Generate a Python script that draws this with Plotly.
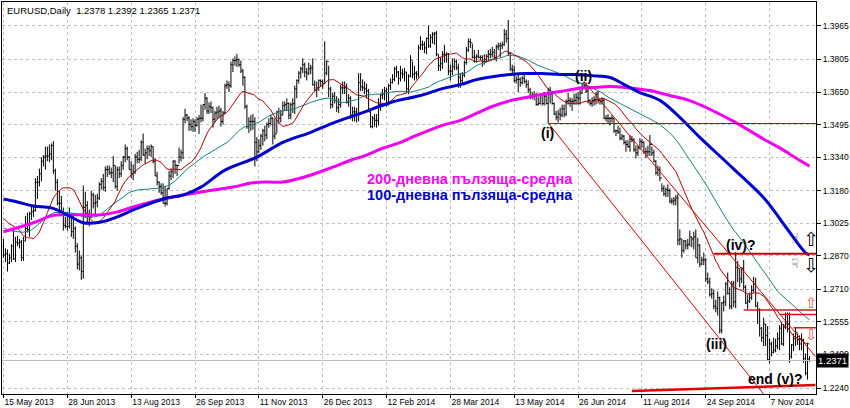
import plotly.graph_objects as go
import pandas as pd

# ---------------- data ----------------
title_text = "EURUSD,Daily  1.2378 1.2392 1.2365 1.2371"

x_tick_pos = [0, 32, 64, 96, 128, 160, 192, 224, 256, 288, 320, 352, 384]
x_tick_labels = ["15 May 2013", "28 Jun 2013", "13 Aug 2013", "26 Sep 2013", "11 Nov 2013",
                 "26 Dec 2013", "12 Feb 2014", "28 Mar 2014", "13 May 2014", "26 Jun 2014",
                 "11 Aug 2014", "24 Sep 2014", "7 Nov 2014"]
y_ticks = [1.2240, 1.2400, 1.2555, 1.2710, 1.2870, 1.3025, 1.3180, 1.3340, 1.3495,
           1.3650, 1.3805, 1.3965]

# daily bars, one row per week (15 May 2013 .. 5 Dec 2014)
high = [
    1.2950, 1.2905, 1.2900,
    1.2880, 1.2925, 1.2997, 1.2960, 1.2965,
    1.2950, 1.2945, 1.2960, 1.3060, 1.3075,
    1.3080, 1.3110, 1.3105, 1.3240, 1.3250,
    1.3285, 1.3340, 1.3350, 1.3390, 1.3390,
    1.3400, 1.3405, 1.3416, 1.3285, 1.3235,
    1.3180, 1.3155, 1.3100, 1.3055, 1.3080,
    1.3100, 1.3070, 1.3060, 1.3010, 1.2930,
    1.2895, 1.2870, 1.3205, 1.3175, 1.3130,
    1.3090, 1.3180, 1.3170, 1.3160, 1.3165,
    1.3220, 1.3240, 1.3260, 1.3295, 1.3300,
    1.3300, 1.3290, 1.3345, 1.3300, 1.3295,
    1.3295, 1.3320, 1.3345, 1.3400, 1.3390,
    1.3345, 1.3320, 1.3305, 1.3355, 1.3365,
    1.3375, 1.3420, 1.3452, 1.3380, 1.3395,
    1.3395, 1.3400, 1.3390, 1.3335, 1.3270,
    1.3225, 1.3215, 1.3215, 1.3200, 1.3190,
    1.3275, 1.3285, 1.3325, 1.3325, 1.3305,
    1.3385, 1.3375, 1.3530, 1.3570, 1.3545,
    1.3535, 1.3520, 1.3525, 1.3520, 1.3530,
    1.3540, 1.3590, 1.3590, 1.3645, 1.3625,
    1.3600, 1.3605, 1.3580, 1.3560, 1.3580,
    1.3585, 1.3575, 1.3560, 1.3690, 1.3705,
    1.3700, 1.3795, 1.3810, 1.3820, 1.3832,
    1.3810, 1.3800, 1.3760, 1.3725, 1.3590,
    1.3530, 1.3540, 1.3545, 1.3530, 1.3435,
    1.3425, 1.3450, 1.3475, 1.3490, 1.3505,
    1.3525, 1.3540, 1.3530, 1.3525, 1.3560,
    1.3575, 1.3565, 1.3605, 1.3605, 1.3620,
    1.3600, 1.3600, 1.3620, 1.3680, 1.3710,
    1.3750, 1.3770, 1.3810, 1.3790, 1.3765,
    1.3790, 1.3780, 1.3810, 1.3705, 1.3700,
    1.3710, 1.3710, 1.3710, 1.3892,
    1.3800, 1.3775, 1.3675,
    1.3645, 1.3650, 1.3630, 1.3620, 1.3685,
    1.3700, 1.3700, 1.3690, 1.3640, 1.3630,
    1.3580, 1.3580, 1.3575, 1.3740, 1.3740,
    1.3710, 1.3700, 1.3690, 1.3665, 1.3565,
    1.3535, 1.3545, 1.3545, 1.3620, 1.3640,
    1.3665, 1.3675, 1.3670, 1.3690, 1.3715,
    1.3735, 1.3770, 1.3775, 1.3750, 1.3775,
    1.3760, 1.3765, 1.3745, 1.3735, 1.3825,
    1.3795, 1.3775, 1.3750, 1.3875, 1.3915,
    1.3895, 1.3890, 1.3910, 1.3967, 1.3925,
    1.3935, 1.3935, 1.3940, 1.3830, 1.3815,
    1.3845, 1.3875, 1.3840, 1.3835, 1.3780,
    1.3810, 1.3810, 1.3805, 1.3785, 1.3740,
    1.3745, 1.3800, 1.3865, 1.3905, 1.3905,
    1.3880, 1.3850, 1.3830, 1.3850, 1.3825,
    1.3825, 1.3830, 1.3830, 1.3850, 1.3855,
    1.3865, 1.3855, 1.3875, 1.3885, 1.3885,
    1.3890, 1.3950, 1.3945, 1.3993, 1.3840,
    1.3780, 1.3775, 1.3725, 1.3735, 1.3720,
    1.3725, 1.3735, 1.3710, 1.3705, 1.3670,
    1.3650, 1.3655, 1.3645, 1.3625, 1.3645,
    1.3645, 1.3650, 1.3645, 1.3670, 1.3675,
    1.3655, 1.3600, 1.3560, 1.3565, 1.3575,
    1.3590, 1.3590, 1.3615, 1.3645, 1.3625,
    1.3620, 1.3640, 1.3645, 1.3650, 1.3660,
    1.3695, 1.3700, 1.3695, 1.3675, 1.3615,
    1.3625, 1.3630, 1.3650, 1.3655, 1.3620,
    1.3625, 1.3620, 1.3540, 1.3545, 1.3530,
    1.3540, 1.3525, 1.3470, 1.3490, 1.3480,
    1.3450, 1.3445, 1.3420, 1.3420, 1.3445,
    1.3440, 1.3430, 1.3395, 1.3395, 1.3430,
    1.3425, 1.3415, 1.3385, 1.3395, 1.3445,
    1.3390, 1.3375, 1.3325, 1.3300, 1.3295,
    1.3215, 1.3205, 1.3195, 1.3210, 1.3190,
    1.3145, 1.3150, 1.3160, 1.3165, 1.2995,
    1.2950, 1.2945, 1.2945, 1.2950, 1.2990,
    1.2960, 1.2985, 1.2995, 1.2955, 1.2925,
    1.2865, 1.2885, 1.2860, 1.2790, 1.2765,
    1.2715, 1.2710, 1.2660, 1.2700, 1.2675,
    1.2650, 1.2680, 1.2745, 1.2790, 1.2720,
    1.2750, 1.2750, 1.2887, 1.2845, 1.2810,
    1.2815, 1.2850, 1.2730, 1.2685, 1.2695,
    1.2730, 1.2770, 1.2765, 1.2650, 1.2620,
    1.2530, 1.2575, 1.2545, 1.2535, 1.2475,
    1.2460, 1.2480, 1.2475, 1.2505, 1.2540,
    1.2555, 1.2545, 1.2600, 1.2600, 1.2600,
    1.2450, 1.2500, 1.2530, 1.2500, 1.2490,
    1.2500, 1.2475, 1.2405, 1.2455, 1.2392,
]
low = [
    1.2860, 1.2840, 1.2795,
    1.2830, 1.2840, 1.2850, 1.2840, 1.2915,
    1.2905, 1.2845, 1.2845, 1.2940, 1.2980,
    1.2960, 1.3040, 1.3055, 1.3080, 1.3140,
    1.3200, 1.3225, 1.3295, 1.3280, 1.3320,
    1.3315, 1.3325, 1.3260, 1.3180, 1.3110,
    1.3065, 1.3080, 1.2990, 1.3000, 1.2990,
    1.3000, 1.2960, 1.2950, 1.2885, 1.2805,
    1.2800, 1.2755, 1.2760, 1.3050, 1.3030,
    1.3010, 1.3050, 1.3095, 1.3060, 1.3100,
    1.3135, 1.3185, 1.3180, 1.3175, 1.3245,
    1.3255, 1.3240, 1.3220, 1.3190, 1.3180,
    1.3240, 1.3245, 1.3280, 1.3315, 1.3325,
    1.3280, 1.3240, 1.3230, 1.3260, 1.3310,
    1.3310, 1.3320, 1.3345, 1.3310, 1.3330,
    1.3345, 1.3340, 1.3310, 1.3250, 1.3205,
    1.3170, 1.3160, 1.3120, 1.3105, 1.3110,
    1.3185, 1.3230, 1.3240, 1.3260, 1.3250,
    1.3310, 1.3320, 1.3330, 1.3500, 1.3510,
    1.3465, 1.3465, 1.3460, 1.3460, 1.3485,
    1.3450, 1.3505, 1.3510, 1.3565, 1.3545,
    1.3545, 1.3550, 1.3480, 1.3505, 1.3520,
    1.3525, 1.3485, 1.3495, 1.3545, 1.3665,
    1.3650, 1.3670, 1.3745, 1.3775, 1.3770,
    1.3770, 1.3740, 1.3680, 1.3570, 1.3475,
    1.3455, 1.3465, 1.3470, 1.3295, 1.3320,
    1.3360, 1.3375, 1.3395, 1.3415, 1.3425,
    1.3480, 1.3490, 1.3400, 1.3425, 1.3455,
    1.3500, 1.3505, 1.3540, 1.3560, 1.3560,
    1.3520, 1.3520, 1.3550, 1.3545, 1.3620,
    1.3690, 1.3715, 1.3740, 1.3720, 1.3705,
    1.3730, 1.3735, 1.3680, 1.3655, 1.3625,
    1.3655, 1.3675, 1.3665, 1.3690,
    1.3730, 1.3625, 1.3570,
    1.3575, 1.3595, 1.3555, 1.3550, 1.3575,
    1.3640, 1.3640, 1.3595, 1.3580, 1.3520,
    1.3510, 1.3510, 1.3505, 1.3510, 1.3655,
    1.3655, 1.3640, 1.3620, 1.3555, 1.3480,
    1.3477, 1.3485, 1.3480, 1.3490, 1.3560,
    1.3615, 1.3610, 1.3580, 1.3585, 1.3660,
    1.3690, 1.3700, 1.3720, 1.3685, 1.3700,
    1.3715, 1.3700, 1.3650, 1.3640, 1.3720,
    1.3715, 1.3705, 1.3710, 1.3720, 1.3850,
    1.3850, 1.3835, 1.3830, 1.3860, 1.3860,
    1.3880, 1.3875, 1.3820, 1.3750, 1.3750,
    1.3760, 1.3790, 1.3790, 1.3730, 1.3705,
    1.3730, 1.3755, 1.3755, 1.3670, 1.3670,
    1.3690, 1.3720, 1.3780, 1.3840, 1.3860,
    1.3810, 1.3790, 1.3790, 1.3810, 1.3800,
    1.3770, 1.3780, 1.3790, 1.3800, 1.3810,
    1.3815, 1.3805, 1.3795, 1.3850, 1.3815,
    1.3855, 1.3870, 1.3885, 1.3825, 1.3750,
    1.3735, 1.3695, 1.3690, 1.3650, 1.3675,
    1.3685, 1.3690, 1.3670, 1.3645, 1.3615,
    1.3615, 1.3610, 1.3585, 1.3585, 1.3590,
    1.3585, 1.3585, 1.3590, 1.3503, 1.3595,
    1.3590, 1.3540, 1.3515, 1.3505, 1.3515,
    1.3530, 1.3530, 1.3535, 1.3590, 1.3580,
    1.3560, 1.3590, 1.3590, 1.3590, 1.3590,
    1.3640, 1.3670, 1.3645, 1.3595, 1.3585,
    1.3580, 1.3585, 1.3590, 1.3595, 1.3590,
    1.3590, 1.3520, 1.3510, 1.3500, 1.3490,
    1.3505, 1.3455, 1.3440, 1.3450, 1.3420,
    1.3420, 1.3400, 1.3365, 1.3385, 1.3365,
    1.3410, 1.3365, 1.3333, 1.3345, 1.3375,
    1.3385, 1.3355, 1.3335, 1.3345, 1.3345,
    1.3345, 1.3315, 1.3255, 1.3250, 1.3225,
    1.3175, 1.3155, 1.3150, 1.3150, 1.3120,
    1.3115, 1.3110, 1.3110, 1.2920, 1.2920,
    1.2860, 1.2885, 1.2900, 1.2900, 1.2915,
    1.2910, 1.2900, 1.2860, 1.2835, 1.2815,
    1.2825, 1.2825, 1.2745, 1.2735, 1.2675,
    1.2665, 1.2615, 1.2600, 1.2585, 1.2500,
    1.2500, 1.2605, 1.2630, 1.2685, 1.2615,
    1.2615, 1.2625, 1.2620, 1.2745, 1.2720,
    1.2740, 1.2705, 1.2640, 1.2615, 1.2645,
    1.2660, 1.2695, 1.2625, 1.2545, 1.2485,
    1.2460, 1.2440, 1.2440, 1.2370, 1.2358,
    1.2390, 1.2405, 1.2410, 1.2425, 1.2420,
    1.2445, 1.2440, 1.2520, 1.2505, 1.2360,
    1.2380, 1.2415, 1.2440, 1.2445, 1.2420,
    1.2420, 1.2360, 1.2300, 1.2280, 1.2365,
]
close = [
    1.2875, 1.2880, 1.2835,
    1.2860, 1.2915, 1.2855, 1.2935, 1.2930,
    1.2935, 1.2860, 1.2940, 1.3000, 1.2995,
    1.3070, 1.3080, 1.3085, 1.3220, 1.3220,
    1.3260, 1.3320, 1.3340, 1.3345, 1.3345,
    1.3355, 1.3395, 1.3275, 1.3220, 1.3120,
    1.3120, 1.3080, 1.3015, 1.3010, 1.3010,
    1.3060, 1.2985, 1.3000, 1.2915, 1.2830,
    1.2860, 1.2795, 1.3100, 1.3110, 1.3070,
    1.3060, 1.3160, 1.3120, 1.3125, 1.3145,
    1.3210, 1.3225, 1.3195, 1.3280, 1.3280,
    1.3265, 1.3265, 1.3300, 1.3200, 1.3280,
    1.3260, 1.3300, 1.3340, 1.3380, 1.3340,
    1.3280, 1.3260, 1.3270, 1.3340, 1.3330,
    1.3330, 1.3410, 1.3350, 1.3360, 1.3380,
    1.3370, 1.3390, 1.3320, 1.3250, 1.3220,
    1.3200, 1.3170, 1.3120, 1.3120, 1.3190,
    1.3250, 1.3270, 1.3320, 1.3300, 1.3300,
    1.3340, 1.3360, 1.3520, 1.3540, 1.3525,
    1.3495, 1.3485, 1.3510, 1.3490, 1.3520,
    1.3525, 1.3525, 1.3590, 1.3620, 1.3560,
    1.3580, 1.3575, 1.3520, 1.3550, 1.3555,
    1.3560, 1.3510, 1.3550, 1.3680, 1.3685,
    1.3680, 1.3780, 1.3800, 1.3800, 1.3805,
    1.3780, 1.3750, 1.3720, 1.3580, 1.3485,
    1.3510, 1.3510, 1.3510, 1.3410, 1.3365,
    1.3395, 1.3440, 1.3465, 1.3445, 1.3495,
    1.3500, 1.3525, 1.3440, 1.3450, 1.3555,
    1.3525, 1.3540, 1.3585, 1.3590, 1.3595,
    1.3540, 1.3590, 1.3595, 1.3665, 1.3705,
    1.3740, 1.3760, 1.3780, 1.3745, 1.3740,
    1.3760, 1.3765, 1.3685, 1.3660, 1.3670,
    1.3705, 1.3700, 1.3690, 1.3740,
    1.3795, 1.3665, 1.3590,
    1.3630, 1.3610, 1.3575, 1.3590, 1.3670,
    1.3670, 1.3670, 1.3600, 1.3620, 1.3540,
    1.3555, 1.3555, 1.3545, 1.3695, 1.3675,
    1.3670, 1.3665, 1.3655, 1.3555, 1.3485,
    1.3525, 1.3515, 1.3515, 1.3590, 1.3635,
    1.3640, 1.3655, 1.3590, 1.3680, 1.3695,
    1.3710, 1.3760, 1.3745, 1.3715, 1.3740,
    1.3735, 1.3745, 1.3665, 1.3725, 1.3800,
    1.3735, 1.3740, 1.3735, 1.3860, 1.3875,
    1.3875, 1.3860, 1.3905, 1.3870, 1.3910,
    1.3925, 1.3930, 1.3830, 1.3775, 1.3785,
    1.3830, 1.3825, 1.3830, 1.3750, 1.3750,
    1.3770, 1.3795, 1.3765, 1.3720, 1.3705,
    1.3730, 1.3790, 1.3850, 1.3890, 1.3885,
    1.3815, 1.3815, 1.3820, 1.3815, 1.3815,
    1.3795, 1.3805, 1.3820, 1.3830, 1.3830,
    1.3840, 1.3815, 1.3865, 1.3870, 1.3870,
    1.3875, 1.3925, 1.3905, 1.3835, 1.3760,
    1.3755, 1.3705, 1.3710, 1.3710, 1.3695,
    1.3715, 1.3700, 1.3685, 1.3660, 1.3630,
    1.3635, 1.3635, 1.3590, 1.3595, 1.3635,
    1.3595, 1.3630, 1.3595, 1.3660, 1.3640,
    1.3595, 1.3545, 1.3530, 1.3545, 1.3540,
    1.3570, 1.3545, 1.3605, 1.3610, 1.3605,
    1.3605, 1.3610, 1.3625, 1.3620, 1.3645,
    1.3690, 1.3680, 1.3655, 1.3610, 1.3595,
    1.3610, 1.3615, 1.3640, 1.3610, 1.3605,
    1.3610, 1.3525, 1.3525, 1.3525, 1.3525,
    1.3525, 1.3465, 1.3465, 1.3460, 1.3430,
    1.3440, 1.3410, 1.3400, 1.3390, 1.3425,
    1.3420, 1.3375, 1.3360, 1.3385, 1.3415,
    1.3410, 1.3365, 1.3365, 1.3365, 1.3400,
    1.3360, 1.3320, 1.3265, 1.3280, 1.3240,
    1.3190, 1.3165, 1.3185, 1.3180, 1.3130,
    1.3130, 1.3135, 1.3145, 1.2945, 1.2950,
    1.2895, 1.2940, 1.2920, 1.2925, 1.2960,
    1.2950, 1.2960, 1.2860, 1.2920, 1.2830,
    1.2850, 1.2850, 1.2760, 1.2745, 1.2685,
    1.2690, 1.2630, 1.2620, 1.2670, 1.2515,
    1.2645, 1.2650, 1.2735, 1.2690, 1.2630,
    1.2735, 1.2650, 1.2815, 1.2810, 1.2760,
    1.2810, 1.2720, 1.2645, 1.2655, 1.2670,
    1.2705, 1.2735, 1.2630, 1.2610, 1.2525,
    1.2480, 1.2545, 1.2490, 1.2375, 1.2450,
    1.2410, 1.2420, 1.2440, 1.2475, 1.2525,
    1.2450, 1.2530, 1.2545, 1.2545, 1.2390,
    1.2445, 1.2475, 1.2505, 1.2470, 1.2450,
    1.2470, 1.2380, 1.2310, 1.2378, 1.2371,
]
first_open = 1.2915

# estimated closes of the 49 sessions before the first bar (seed the 20/50-day averages)
close_before_start = [
    1.3110, 1.3000, 1.3025, 1.3040, 1.2950, 1.2975, 1.3075, 1.2950, 1.2870, 1.2945,
    1.2905, 1.2985, 1.2855, 1.2850, 1.2775, 1.2820, 1.2820, 1.2850, 1.2815, 1.2850,
    1.2990, 1.3000, 1.3045, 1.3070, 1.3070, 1.3110, 1.3110, 1.3040, 1.3185, 1.3045,
    1.3050, 1.3050, 1.3025, 1.2985, 1.3020, 1.3035, 1.3030, 1.3085, 1.3165, 1.3185,
    1.3060, 1.3115, 1.3090, 1.3075, 1.3170, 1.3075, 1.2990, 1.2980, 1.2915,
]

# 200- and 100-day moving averages (bar index, price)
ma200_idx = [0, 15, 24, 32, 40, 49, 57, 65, 74, 82, 90, 99, 115, 124, 132, 140, 149, 157, 165,
             174, 182, 190, 199, 207, 220, 229, 237, 245, 254, 262, 270, 279, 287, 295, 304,
             312, 324, 334, 344, 365, 382, 389, 394, 399, 404]
ma200_val = [1.2984, 1.3027, 1.3060, 1.3065, 1.3065, 1.3065, 1.3079, 1.3102, 1.3126, 1.3145,
             1.3159, 1.3174, 1.3197, 1.3216, 1.3221, 1.3221, 1.3240, 1.3264, 1.3292, 1.3325,
             1.3349, 1.3382, 1.3410, 1.3443, 1.3491, 1.3515, 1.3548, 1.3581, 1.3609, 1.3624,
             1.3638, 1.3652, 1.3666, 1.3671, 1.3676, 1.3671, 1.3657, 1.3633, 1.3609, 1.3515,
             1.3420, 1.3384, 1.3355, 1.3325, 1.3297]
ma100_idx = [0, 7, 15, 24, 32, 40, 49, 57, 65, 74, 82, 90, 99, 111, 127, 140, 154, 166, 179,
             194, 209, 220, 229, 237, 245, 254, 262, 270, 279, 287, 295, 304, 312, 319, 329,
             339, 349, 365, 382, 392, 402, 404]
ma100_val = [1.3140, 1.3126, 1.3107, 1.3098, 1.3065, 1.3027, 1.3031, 1.3055, 1.3088, 1.3121,
             1.3145, 1.3159, 1.3197, 1.3278, 1.3340, 1.3410, 1.3458, 1.3505, 1.3548, 1.3600,
             1.3633, 1.3666, 1.3685, 1.3709, 1.3723, 1.3733, 1.3738, 1.3738, 1.3733, 1.3733,
             1.3728, 1.3719, 1.3681, 1.3647, 1.3610, 1.3529, 1.3434, 1.3292, 1.3136, 1.3008,
             1.2884, 1.2874]

# drawn objects (bar index, price)
channel_low = ([273, 384], [1.3503, 1.2175])
channel_up = ([291, 407], [1.3700, 1.2390])
h_lines = [  # (start index, price, colour, width)
    (273, 1.3500, "#B01010", 1),
    (356, 1.2880, "#CC0000", 2),
    (371, 1.2612, "#D01818", 1.5),
    (389, 1.2590, "#D01818", 1.5),
    (396, 1.2527, "#D01818", 1.5),
]
support_line = ([315, 407], [1.2226, 1.2254])
bid_price = 1.2371

wave_labels = [("(i)", 272.5, 1.3453), ("(ii)", 290.75, 1.3728), ("(iii)", 357.25, 1.2448),
               ("(iv)?", 369.75, 1.2922), ("end (v)?", 386.75, 1.2283)]
ma_notes = [("200-дневна пълзяща-средна", 181.25, 1.3235, "#FF00FF"),
            ("100-дневна пълзяща-средна", 181.25, 1.3159, "#0000CD")]
arrow_marks = [("⇧", 404.6, 1.2950, "black", 19), ("⇩", 404.6, 1.2826, "black", 19),
               ("⇧", 405.0, 1.2643, "#F05050", 15), ("⇩", 404.8, 1.2491, "#F05050", 15),
               ("☝", 396.5, 1.2950, "#333333", 13), ("☟", 396.5, 1.2832, "#333333", 13)]

# ---------------- figure ----------------
n = len(close)
idx = list(range(n))
opens = [first_open] + close[:-1]
full = pd.Series(close_before_start + close)
sma20 = full.rolling(20).mean().iloc[len(close_before_start):].tolist()
sma50 = full.rolling(50).mean().iloc[len(close_before_start):].tolist()

fig = go.Figure()
fig.add_trace(go.Ohlc(x=idx, open=opens, high=high, low=low, close=close,
                      increasing=dict(line=dict(color="black", width=1)),
                      decreasing=dict(line=dict(color="black", width=1)),
                      tickwidth=0.5, hoverinfo="skip"))

fig.add_trace(go.Scatter(x=idx, y=sma50, mode="lines", line=dict(color="#168080", width=1)))
fig.add_trace(go.Scatter(x=idx, y=sma20, mode="lines", line=dict(color="#B00000", width=1)))
fig.add_trace(go.Scatter(x=ma200_idx, y=ma200_val, mode="lines",
                         line=dict(color="#F000F0", width=3, shape="spline", smoothing=1)))
fig.add_trace(go.Scatter(x=ma100_idx, y=ma100_val, mode="lines",
                         line=dict(color="#0000CD", width=3, shape="spline", smoothing=1)))

for xs, ys in (channel_low, channel_up):
    fig.add_trace(go.Scatter(x=xs, y=ys, mode="lines", line=dict(color="#D00000", width=1)))
for x0, p, c, w in h_lines:
    fig.add_trace(go.Scatter(x=[x0, 407.25], y=[p, p], mode="lines", line=dict(color=c, width=w)))
fig.add_trace(go.Scatter(x=support_line[0], y=support_line[1], mode="lines",
                         line=dict(color="#E00000", width=2.5)))
fig.add_trace(go.Scatter(x=[-0.75, 407.25], y=[bid_price, bid_price], mode="lines",
                         line=dict(color="#C0C0C0", width=1)))

ann = []
for t, xx, yy in wave_labels:
    ann.append(dict(x=xx, y=yy, text="<b>" + t + "</b>", showarrow=False,
                    font=dict(family="Liberation Sans", size=14, color="black")))
for t, xx, yy, c in ma_notes:
    ann.append(dict(x=xx, y=yy, text="<b>" + t + "</b>", showarrow=False, xanchor="left",
                    font=dict(family="Liberation Sans", size=14.5, color=c)))
for t, xx, yy, c, s in arrow_marks:
    ann.append(dict(x=xx, y=yy, text=t, showarrow=False,
                    font=dict(family="DejaVu Sans", size=s, color=c)))
ann.append(dict(xref="paper", yref="paper", x=0, y=1, xanchor="left", yanchor="top",
                xshift=3, yshift=-1, text=title_text, showarrow=False,
                font=dict(family="Liberation Sans", size=9.5, color="black")))
ann.append(dict(xref="paper", x=1, y=bid_price, xanchor="left", xshift=0, text="1.2371",
                showarrow=False, bgcolor="black", borderpad=1,
                font=dict(family="Liberation Sans", size=9.5, color="white")))

fig.update_layout(
    width=850, height=408,
    margin=dict(l=1, r=33, t=1, b=13),
    paper_bgcolor="white", plot_bgcolor="white",
    showlegend=False,
    annotations=ann,
    xaxis=dict(range=[-0.75, 407.25], tickmode="array", tickvals=x_tick_pos,
               ticktext=x_tick_labels, ticks="outside", ticklen=3, tickcolor="black",
               ticklabelposition="outside right",
               showgrid=True, gridcolor="#C0C0C0", griddash="3px,3px", gridwidth=1,
               showline=True, linecolor="black", linewidth=1, mirror=True,
               zeroline=False, rangeslider=dict(visible=False), fixedrange=True,
               tickfont=dict(family="Liberation Sans", size=8.5, color="black")),
    yaxis=dict(range=[1.22114, 1.40787], side="right", tickmode="array", tickvals=y_ticks,
               ticktext=["%.4f" % v for v in y_ticks], ticks="outside", ticklen=4,
               tickcolor="black",
               showgrid=True, gridcolor="#C0C0C0", griddash="3px,3px", gridwidth=1,
               showline=True, linecolor="black", linewidth=1, mirror=True,
               zeroline=False, fixedrange=True,
               tickfont=dict(family="Liberation Sans", size=8.5, color="black")),
)

fig.write_html("out.html")
